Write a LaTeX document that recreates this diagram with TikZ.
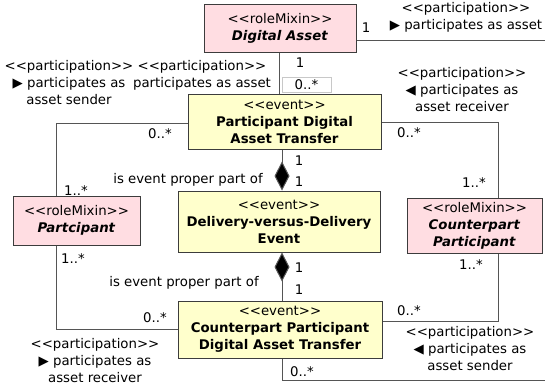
\documentclass[tikz,border=0pt]{standalone}
\usepackage{fontspec}
\setmainfont{DejaVu Sans}[Ligatures=TeXOff]
\usetikzlibrary{arrows.meta}
\definecolor{pinkfill}{RGB}{255,221,226}
\definecolor{yellowfill}{RGB}{255,255,204}
\definecolor{boxborder}{RGB}{60,60,60}
\definecolor{linegrey}{RGB}{85,85,85}
\definecolor{framegrey}{RGB}{200,200,200}
\tikzset{
  every node/.style={font=\fontsize{13.3}{17}\selectfont},
  umlbox/.style={draw=boxborder, line width=1pt, align=center, inner sep=0pt},
  pinkbox/.style={umlbox, fill=pinkfill},
  yellowbox/.style={umlbox, fill=yellowfill},
  conn/.style={draw=linegrey, line width=1pt},
  comp/.style={conn, -{Diamond[length=29pt,width=15pt,fill=black]}},
  lbl/.style={inner sep=0pt, align=center}
}
\begin{document}
\begin{tikzpicture}[x=1pt,y=-1pt]
\useasboundingbox (0,0) rectangle (545,386);
% boxes
\node[pinkbox, minimum width=152pt, minimum height=48pt] (da) at (280,28) {<<roleMixin>>\\\textbf{\textit{Digital Asset}}};
\node[yellowbox, minimum width=193pt, minimum height=55pt] (pdat) at (284.5,121.5) {<<event>>\\\textbf{Participant Digital}\\\textbf{Asset Transfer}};
\node[yellowbox, minimum width=202pt, minimum height=61pt] (dvd) at (279,221.5) {<<event>>\\\textbf{Delivery-versus-Delivery}\\\textbf{Event}};
\node[yellowbox, minimum width=204pt, minimum height=57pt] (cpdat) at (280,329.5) {<<event>>\\\textbf{Counterpart Participant}\\\textbf{Digital Asset Transfer}};
\node[pinkbox, minimum width=127pt, minimum height=49pt] (pt) at (76.5,220.5) {<<roleMixin>>\\\textbf{\textit{Partcipant}}};
\node[pinkbox, minimum width=135pt, minimum height=55pt] (cp) at (474.5,225.5) {<<roleMixin>>\\\textbf{\textit{Counterpart}}\\\textbf{\textit{Participant}}};
% connector corners
\coordinate (c1) at (545.5,40);
\coordinate (c2) at (545.5,380);
\coordinate (c3) at (282,380);
% connectors
\draw[conn] (da.east |- 0,40) -- (c1) -- (c2) -- (c3) -- (cpdat.south -| c3);
\draw[conn] (da.south -| 279,0) -- (pdat.north -| 279,0);
\draw[conn] (pdat.west |- 0,123) -| (pt.north -| 56,0);
\draw[conn] (pt.south -| 56,0) |- (cpdat.west |- 0,329);
\draw[conn] (pdat.east |- 0,122) -| (cp.north -| 498,0);
\draw[conn] (cp.south -| 498,0) |- (cpdat.east |- 0,321);
\draw[comp] (pdat.south -| 282,0) -- (dvd.north -| 282,0);
\draw[comp] (cpdat.north -| 282,0) -- (dvd.south -| 282,0);
% multiplicities
\node[lbl] (m1) at (366,28) {1};
\node[lbl] (m2) at (300,63) {1};
\node[lbl, draw=framegrey, line width=0.6pt, minimum width=49pt, minimum height=15pt] (m3) at (306.5,84.5) {0..*};
\node[lbl] (m4) at (160,134) {0..*};
\node[lbl] (m5) at (409,133) {0..*};
\node[lbl] (m6) at (76,191) {1..*};
\node[lbl] (m7) at (474,183) {1..*};
\node[lbl] (m8) at (299,161) {1};
\node[lbl] (m9) at (299,182) {1};
\node[lbl] (m10) at (299,268) {1};
\node[lbl] (m11) at (299,290) {1};
\node[lbl] (m12) at (73,259) {1..*};
\node[lbl] (m13) at (471,265) {1..*};
\node[lbl] (m14) at (155,318) {0..*};
\node[lbl] (m15) at (409,311) {0..*};
\node[lbl] (m16) at (302,372) {0..*};
% association labels
\node[lbl] (a1) at (466,17) {<<participation>>\\▶ participates as asset};
\node[lbl] (a2) at (202,75) {<<participation>>\\participates as asset};
\node[lbl] (a3) at (69,83) {<<participation>>\\▶ participates as\\asset sender};
\node[lbl] (a4) at (462,90) {<<participation>>\\◀ participates as\\asset receiver};
\node[lbl] (a5) at (188,180) {is event proper part of};
\node[lbl] (a6) at (184,283) {is event proper part of};
\node[lbl] (a7) at (95,361) {<<participation>>\\▶ participates as\\asset receiver};
\node[lbl] (a8) at (470,349) {<<participation>>\\◀ participates as\\asset sender};
\end{tikzpicture}
\end{document}
